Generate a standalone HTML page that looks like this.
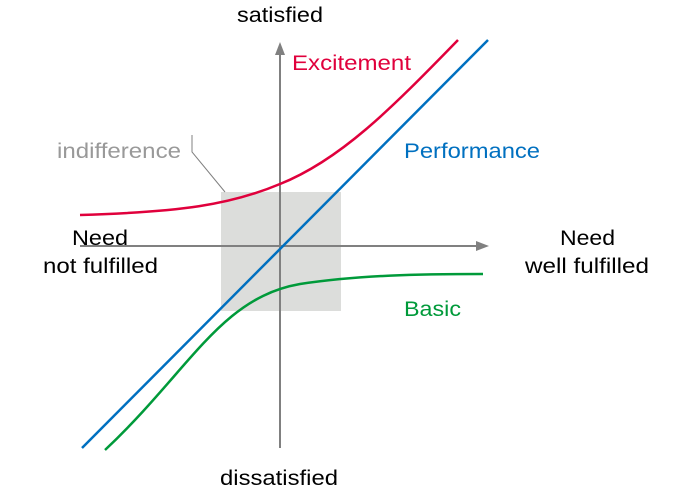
<!DOCTYPE html>
<html><head><meta charset="utf-8"><style>
html,body{margin:0;padding:0;background:#fff;}
svg text{font-family:"Liberation Sans",Arial,sans-serif;font-size:21px;}
</style></head><body>
<svg width="675" height="495" viewBox="0 0 675 495" xmlns="http://www.w3.org/2000/svg">
<rect x="221" y="192" width="120" height="119" fill="#dcdddb"/>
<line x1="280" y1="448" x2="280" y2="52" stroke="#808080" stroke-width="2"/>
<polygon points="280,42 275,55 285,55" fill="#808080"/>
<line x1="80" y1="246" x2="478" y2="246" stroke="#808080" stroke-width="2"/>
<polygon points="489,246 476,241 476,251" fill="#808080"/>
<line x1="82" y1="448" x2="488" y2="40" stroke="#0070c0" stroke-width="2.5"/>
<path d="M80,215 C180,212 230,205 280,184 C340,160 390,110 458,40" fill="none" stroke="#e0003c" stroke-width="2.5"/>
<path d="M105,450 C190,370 220,298 300,284 C360,275 420,274 483,274" fill="none" stroke="#009a3a" stroke-width="2.5"/>
<polyline points="192,135 192,152 225,192" fill="none" stroke="#808080" stroke-width="1"/>
<text x="237" y="22" textLength="86" lengthAdjust="spacingAndGlyphs" fill="#000">satisfied</text>
<text x="220" y="485" textLength="118" lengthAdjust="spacingAndGlyphs" fill="#000">dissatisfied</text>
<text x="560" y="245" textLength="55" lengthAdjust="spacingAndGlyphs" fill="#000">Need</text>
<text x="525" y="273" textLength="124" lengthAdjust="spacingAndGlyphs" fill="#000">well fulfilled</text>
<text x="72" y="245" textLength="56" lengthAdjust="spacingAndGlyphs" fill="#000">Need</text>
<text x="43" y="273" textLength="115" lengthAdjust="spacingAndGlyphs" fill="#000">not fulfilled</text>
<text x="292" y="70" textLength="119" lengthAdjust="spacingAndGlyphs" fill="#e0003c">Excitement</text>
<text x="404" y="158" textLength="136" lengthAdjust="spacingAndGlyphs" fill="#0070c0">Performance</text>
<text x="404" y="316" textLength="57" lengthAdjust="spacingAndGlyphs" fill="#009a3a">Basic</text>
<text x="57" y="158" textLength="124" lengthAdjust="spacingAndGlyphs" fill="#999">indifference</text>
</svg>
</body></html>
